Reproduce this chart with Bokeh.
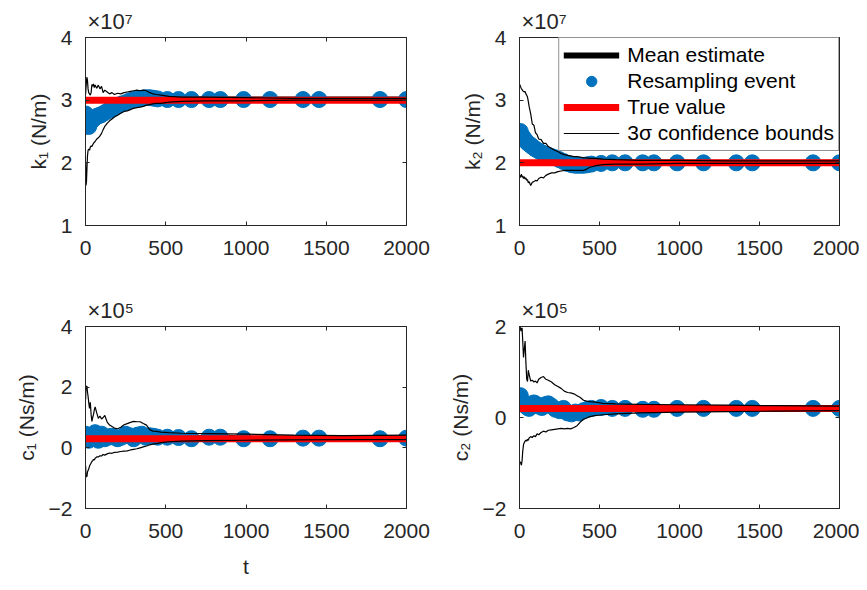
from bokeh.plotting import figure
from bokeh.models import (Legend, LegendItem, LinearAxis, FixedTicker, Range1d,
                          CustomLabelingPolicy)
from bokeh.layouts import column, row
from bokeh.embed import file_html
from bokeh.resources import INLINE

# ---------------- data (values in units of the axis multiplier) ----------------
x_ticks = [0, 500, 1000, 1500, 2000]
k_ticks = [1, 2, 3, 4]
c1_ticks = [-2, 0, 2, 4]
c2_ticks = [-2, 0, 2]

t_true = [0, 2000]
k1_true = 3.0
k2_true = 2.0
c1_true = 0.3
c2_true = 0.2

t_mean = [0, 5, 10, 15, 20, 30, 40, 50, 60, 70, 80, 90, 100, 120, 140, 160, 180, 200,
          225, 250, 275, 300, 325, 350, 375, 400, 425, 450, 510, 580, 660, 770, 840,
          985, 1150, 1355, 1455, 1835, 2000]
k1_mean = [2.78, 2.68, 2.50, 2.47, 2.58, 2.64, 2.67, 2.70, 2.72, 2.74, 2.75, 2.76, 2.77,
           2.80, 2.83, 2.85, 2.88, 2.91, 2.94, 2.96, 2.99, 3.01, 3.02, 3.03, 3.04, 3.04,
           3.03, 3.02, 3.01, 3.01, 3.01, 3.01, 3.01, 3.01, 3.01, 3.01, 3.01, 3.01, 3.01]
k2_mean = [2.48, 2.50, 2.47, 2.44, 2.42, 2.38, 2.35, 2.32, 2.30, 2.28, 2.26, 2.24, 2.22,
           2.19, 2.16, 2.14, 2.12, 2.10, 2.08, 2.05, 2.02, 1.99, 1.97, 1.96, 1.96, 1.96,
           1.97, 1.98, 1.99, 2.00, 2.00, 2.00, 2.00, 2.00, 2.00, 2.00, 2.00, 2.00, 2.00]
c1_mean = [0.45, 0.30, 0.45, 0.35, 0.25, 0.40, 0.30, 0.45, 0.50, 0.35, 0.25, 0.40, 0.45,
           0.30, 0.35, 0.38, 0.35, 0.30, 0.35, 0.45, 0.40, 0.30, 0.42, 0.45, 0.35, 0.40,
           0.38, 0.35, 0.35, 0.34, 0.30, 0.35, 0.35, 0.30, 0.30, 0.32, 0.32, 0.30, 0.32]
c2_mean = [0.45, 0.48, 0.45, 0.40, 0.35, 0.30, 0.25, 0.22, 0.20, 0.25, 0.30, 0.32, 0.30,
           0.25, 0.22, 0.28, 0.30, 0.25, 0.18, 0.15, 0.20, 0.10, 0.08, 0.12, 0.10, 0.15,
           0.18, 0.20, 0.22, 0.20, 0.20, 0.18, 0.18, 0.20, 0.20, 0.20, 0.20, 0.20, 0.20]

# times of the resampling events (markers sit on the mean estimate at those times)
t_resample = [0, 5, 20, 30, 40, 50, 60, 70, 80, 90, 100, 120, 140, 160, 180, 200, 225,
              250, 275, 300, 325, 350, 375, 400, 425, 450, 510, 580, 660, 770, 840, 985,
              1150, 1355, 1455, 1835, 2000]

t_bound = [1, 3, 6, 9, 12, 16, 20, 25, 30, 35, 40, 45, 50, 55, 60, 70, 80, 90, 100, 110,
           120, 135, 150, 165, 180, 200, 220, 240, 260, 280, 300, 320, 340, 360, 380, 400,
           420, 440, 470, 520, 600, 750, 1000, 1300, 1600, 2000]
k1_upper = [3.10, 3.20, 3.30, 3.37, 3.32, 3.18, 3.12, 3.10, 3.08, 3.12, 3.25, 3.22, 3.26,
            3.20, 3.24, 3.19, 3.24, 3.18, 3.22, 3.12, 3.16, 3.13, 3.10, 3.12, 3.09, 3.11,
            3.10, 3.12, 3.13, 3.14, 3.15, 3.16, 3.15, 3.16, 3.15, 3.12, 3.10, 3.09, 3.08,
            3.06, 3.05, 3.05, 3.04, 3.03, 3.03, 3.03]
k1_lower = [2.00, 1.64, 1.70, 1.90, 2.10, 2.20, 2.22, 2.20, 2.25, 2.27, 2.26, 2.29, 2.31,
            2.33, 2.34, 2.38, 2.40, 2.43, 2.47, 2.53, 2.58, 2.63, 2.67, 2.70, 2.73, 2.76,
            2.79, 2.82, 2.83, 2.85, 2.87, 2.88, 2.89, 2.90, 2.92, 2.93, 2.94, 2.95, 2.95,
            2.97, 2.98, 2.99, 2.99, 3.00, 3.00, 3.00]
k2_upper = [3.25, 3.24, 3.22, 3.20, 3.18, 3.17, 3.15, 3.14, 3.13, 3.14, 3.10, 3.08, 3.05,
            2.98, 2.90, 2.78, 2.62, 2.60, 2.48, 2.45, 2.38, 2.37, 2.31, 2.31, 2.26, 2.23,
            2.20, 2.18, 2.15, 2.13, 2.12, 2.11, 2.10, 2.10, 2.09, 2.08, 2.08, 2.07, 2.07,
            2.06, 2.05, 2.04, 2.04, 2.03, 2.03, 2.03]
k2_lower = [1.80, 1.76, 1.80, 1.78, 1.82, 1.77, 1.79, 1.75, 1.78, 1.74, 1.76, 1.72, 1.73,
            1.68, 1.70, 1.64, 1.69, 1.70, 1.72, 1.71, 1.75, 1.77, 1.76, 1.80, 1.82, 1.84,
            1.84, 1.86, 1.87, 1.88, 1.88, 1.88, 1.88, 1.88, 1.88, 1.88, 1.90, 1.93, 1.95,
            1.97, 1.98, 1.98, 1.99, 1.99, 1.99, 1.99]
c1_upper = [1.60, 2.05, 1.94, 2.04, 1.85, 1.70, 1.50, 1.30, 1.50, 1.10, 0.87, 1.00, 1.10,
            1.25, 1.35, 1.15, 0.97, 1.05, 0.95, 1.00, 1.07, 0.85, 0.75, 0.70, 0.65, 0.63,
            0.68, 0.76, 0.80, 0.84, 0.87, 0.86, 0.86, 0.80, 0.75, 0.60, 0.55, 0.54, 0.52,
            0.50, 0.48, 0.47, 0.45, 0.42, 0.40, 0.42]
c1_lower = [-0.60, -0.97, -0.90, -0.95, -0.80, -0.75, -0.70, -0.60, -0.55, -0.50, -0.45,
            -0.42, -0.38, -0.40, -0.34, -0.30, -0.30, -0.26, -0.27, -0.22, -0.24, -0.20,
            -0.17, -0.18, -0.15, -0.14, -0.12, -0.11, -0.10, -0.07, -0.05, -0.03, 0.00,
            0.03, 0.06, 0.10, 0.12, 0.14, 0.17, 0.20, 0.22, 0.24, 0.25, 0.26, 0.27, 0.27]
c2_upper = [2.00, 1.95, 1.98, 1.90, 1.93, 1.97, 1.70, 1.32, 1.50, 1.68, 1.20, 0.85, 0.79,
            1.04, 0.95, 0.80, 0.82, 0.78, 0.80, 0.76, 0.84, 0.88, 0.90, 0.84, 0.82, 0.78,
            0.72, 0.68, 0.64, 0.58, 0.55, 0.54, 0.52, 0.48, 0.44, 0.38, 0.36, 0.35, 0.34,
            0.31, 0.30, 0.29, 0.28, 0.27, 0.26, 0.25]
c2_lower = [-0.95, -1.00, -0.98, -1.02, -1.05, -0.95, -0.75, -0.60, -0.55, -0.52, -0.50,
            -0.52, -0.48, -0.50, -0.45, -0.42, -0.44, -0.40, -0.42, -0.36, -0.38, -0.33,
            -0.30, -0.32, -0.28, -0.27, -0.26, -0.25, -0.24, -0.25, -0.24, -0.25, -0.22,
            -0.18, -0.10, -0.04, -0.01, 0.02, 0.04, 0.06, 0.08, 0.10, 0.12, 0.13, 0.14, 0.15]

# ---------------- styling ----------------
FONT = "Liberation Sans"
DARK = "#262626"
BLUE = "#0072BD"
RED = "#FF0000"
FS = "21px"


def style_axis(ax, ticks, show_labels=True):
    ax.ticker = FixedTicker(ticks=ticks)
    ax.major_tick_in = 4
    ax.major_tick_out = 0
    ax.minor_tick_line_color = None
    ax.axis_line_color = DARK
    ax.major_tick_line_color = DARK
    ax.major_label_text_font = FONT
    ax.major_label_text_color = DARK
    if show_labels:
        ax.major_label_text_font_size = FS
        ax.major_label_standoff = 13
    else:
        ax.major_label_text_font_size = "1px"
        ax.major_label_standoff = 0
        ax.major_label_policy = CustomLabelingPolicy(code="return []")
    ax.axis_label_text_font = FONT
    ax.axis_label_text_font_size = FS
    ax.axis_label_text_font_style = "normal"
    ax.axis_label_text_color = DARK


def panel(width, height, bl, br, bt, bb, ylo, yhi, yticks, mean, upper, lower, truth,
          ylabel, multiplier, xlabel=None):
    p = figure(width=width, height=height, min_border_left=bl, min_border_right=br,
               min_border_top=bt, min_border_bottom=bb,
               x_range=Range1d(0, 2000), y_range=Range1d(ylo, yhi),
               toolbar_location=None, output_backend="svg")
    p.xgrid.visible = False
    p.ygrid.visible = False
    p.outline_line_color = DARK
    p.outline_line_width = 1
    p.background_fill_color = "white"
    p.border_fill_color = "white"

    # multiplier text above the top-left corner of the axes
    p.title.text = multiplier
    p.title.text_font = FONT
    p.title.text_font_size = "22px"
    p.title.text_font_style = "normal"
    p.title.text_color = DARK
    p.title.align = "left"
    p.title.offset = 2
    p.title.standoff = 0

    style_axis(p.xaxis[0], x_ticks)
    style_axis(p.yaxis[0], yticks)
    p.xaxis[0].major_label_standoff = 15
    p.yaxis[0].axis_label = ylabel
    p.yaxis[0].axis_label_standoff = 8
    if xlabel:
        p.xaxis[0].axis_label = xlabel
        p.xaxis[0].axis_label_standoff = 14
    right = LinearAxis()
    style_axis(right, yticks, False)
    p.add_layout(right, "right")
    top = LinearAxis()
    style_axis(top, x_ticks, False)
    p.add_layout(top, "above")

    r_mean = p.line(t_mean, mean, line_color="black", line_width=6)
    res_vals = [mean[t_mean.index(t)] for t in t_resample]
    r_res = p.scatter(t_resample, res_vals, size=16, fill_color=BLUE, line_color=BLUE)
    r_true = p.line(t_true, [truth] * len(t_true), line_color=RED, line_width=7)
    r_up = p.line(t_bound, upper, line_color="black", line_width=1.2)
    p.line(t_bound, lower, line_color="black", line_width=1.2)
    return p, (r_mean, r_res, r_true, r_up)


p1, _ = panel(436, 290, 85, 30, 37, 65, 1, 4, k_ticks, k1_mean, k1_upper, k1_lower,
              k1_true, "k₁ (N/m)", "×10⁷")
p2, rs = panel(423, 290, 83, 20, 37, 65, 1, 4, k_ticks, k2_mean, k2_upper, k2_lower,
               k2_true, "k₂ (N/m)", "×10⁷")
p3, _ = panel(436, 290, 85, 30, 36, 68, -2, 4, c1_ticks, c1_mean, c1_upper, c1_lower,
              c1_true, "c₁ (Ns/m)", "×10⁵", xlabel="t")
p4, _ = panel(423, 290, 83, 20, 36, 68, -2, 2, c2_ticks, c2_mean, c2_upper, c2_lower,
              c2_true, "c₂ (Ns/m)", "×10⁵")

legend = Legend(items=[
    LegendItem(label="Mean estimate", renderers=[rs[0]]),
    LegendItem(label="Resampling event", renderers=[rs[1]]),
    LegendItem(label="True value", renderers=[rs[2]]),
    LegendItem(label="3σ confidence bounds", renderers=[rs[3]]),
], location="top_right")
legend.label_text_font = FONT
legend.label_text_font_size = FS
legend.label_text_color = "black"
legend.glyph_width = 56
legend.glyph_height = 26
legend.label_height = 26
legend.spacing = 0
legend.padding = 4
legend.margin = 0
legend.label_standoff = 8
legend.border_line_color = DARK
legend.border_line_width = 1
legend.background_fill_color = "white"
legend.background_fill_alpha = 1.0
p2.add_layout(legend)

layout = column(row(p1, p2), row(p3, p4))

open("out.html", "w").write(file_html(layout, INLINE))
